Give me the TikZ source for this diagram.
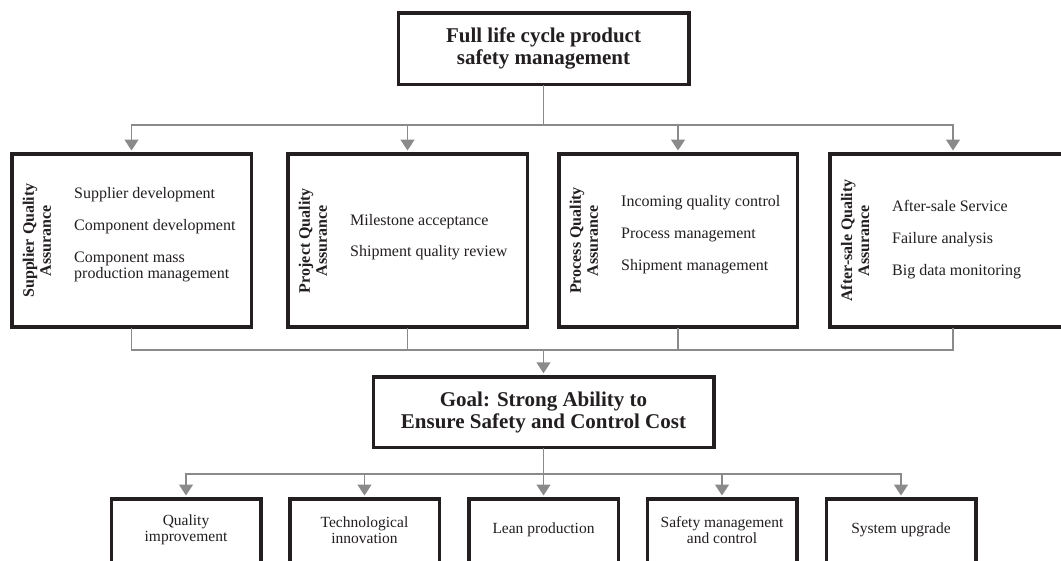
\documentclass[tikz,border=0pt]{standalone}
\usepackage{fontspec}
\setmainfont{Liberation Serif}
\usetikzlibrary{arrows.meta}
\definecolor{ink}{RGB}{35,31,32}
\definecolor{wire}{RGB}{138,138,138}
\begin{document}
\begin{tikzpicture}[x=1pt,y=1pt,
  box/.style={draw=ink, line width=3.5pt, inner sep=0pt, text=ink, fill=white},
  headbox/.style={box, align=center, font=\bfseries\fontsize{21}{22}\selectfont},
  areabox/.style={box, minimum height=173pt},
  leafbox/.style={box, minimum width=149.5pt, minimum height=74pt},
  leaftext/.style={align=center, inner sep=0pt, text=ink,
    font=\fontsize{15.5}{16}\selectfont},
  sidelabel/.style={rotate=90, align=center, inner sep=0pt, text=ink,
    font=\bfseries\fontsize{16}{17}\selectfont},
  items/.style={anchor=west, align=left, inner sep=0pt, text=ink,
    font=\fontsize{16}{16}\selectfont},
  wireline/.style={draw=wire, line width=1.6pt, line cap=rect},
  feed/.style={draw=wire, line width=1.6pt, -{Triangle[width=14pt,length=11pt]}, shorten >=1.75pt},
]
\path[use as bounding box, clip] (0,0) rectangle (1061,-560);

% top level
\node[headbox, minimum width=290.5pt, minimum height=71.5pt] (top) at (543.5,-48.5)
  {Full life cycle product\\safety management};

% four assurance areas
\node[areabox, minimum width=239.5pt] (qa1) at (131.5,-240.5) {};
\node[areabox, minimum width=239.5pt] (qa2) at (407.5,-240.5) {};
\node[areabox, minimum width=238.5pt] (qa3) at (678,-240.5) {};
\node[areabox, minimum width=246.5pt] (qa4) at (953,-240.5) {};

\node[sidelabel] (l1) at ([xshift=27pt]qa1.west) {Supplier Quality\\Assurance};
\node[sidelabel] (l2) at ([xshift=27pt]qa2.west) {Project Quality\\Assurance};
\node[sidelabel] (l3) at ([xshift=27pt]qa3.west) {Process Quality\\Assurance};
\node[sidelabel] (l4) at ([xshift=27pt]qa4.west) {After-sale Quality\\Assurance};

\node[items] (i1) at ([xshift=64pt,yshift=5.5pt]qa1.west)
  {Supplier development\\[16pt]Component development\\[16pt]Component mass\\production management};
\node[items] (i2) at ([xshift=64pt,yshift=3pt]qa2.west)
  {Milestone acceptance\\[15pt]Shipment quality review};
\node[items] (i3) at ([xshift=64pt,yshift=5.5pt]qa3.west)
  {Incoming quality control\\[16pt]Process management\\[16pt]Shipment management};
\node[items] (i4) at ([xshift=64pt,yshift=0.5pt]qa4.west)
  {After-sale Service\\[16pt]Failure analysis\\[16pt]Big data monitoring};

% goal
\node[headbox, minimum width=340.5pt, minimum height=70.5pt] (goal) at (543.5,-412)
  {Goal: Strong Ability to\\Ensure Safety and Control Cost};

% outcomes (boxes run past the lower edge)
\node[leafbox] (g1) at (186,-536) {};
\node[leafbox] (g2) at (364.5,-536) {};
\node[leafbox] (g3) at (543.5,-536) {};
\node[leafbox] (g4) at (722,-536) {};
\node[leafbox] (g5) at (901,-536) {};
\node[leaftext] (t1) at ([yshift=6pt]g1.center) {Quality\\improvement};
\node[leaftext] (t2) at ([yshift=6pt]g2.center) {Technological\\innovation};
\node[leaftext] (t3) at ([yshift=6pt]g3.center) {Lean production};
\node[leaftext] (t4) at ([yshift=6pt]g4.center) {Safety management\\and control};
\node[leaftext] (t5) at ([yshift=6pt]g5.center) {System upgrade};

% connectors: top level to areas
\coordinate (busA) at (0,-125);
\draw[wireline] (top.south) -- (top.south |- busA);
\draw[wireline] (qa1.north |- busA) -- (qa4.north |- busA);
\foreach \n in {qa1,qa2,qa3,qa4}
  \draw[feed] (\n.north |- busA) -- (\n.north);

% areas to goal
\coordinate (busB) at (0,-350);
\foreach \n in {qa1,qa2,qa3,qa4}
  \draw[wireline] (\n.south) -- (\n.south |- busB);
\draw[wireline] (qa1.south |- busB) -- (qa4.south |- busB);
\draw[feed] (goal.north |- busB) -- (goal.north);

% goal to outcomes
\coordinate (busC) at (0,-474);
\draw[wireline] (goal.south) -- (goal.south |- busC);
\draw[wireline] (g1.north |- busC) -- (g5.north |- busC);
\foreach \n in {g1,g2,g3,g4,g5}
  \draw[feed] (\n.north |- busC) -- (\n.north);
\end{tikzpicture}
\end{document}
